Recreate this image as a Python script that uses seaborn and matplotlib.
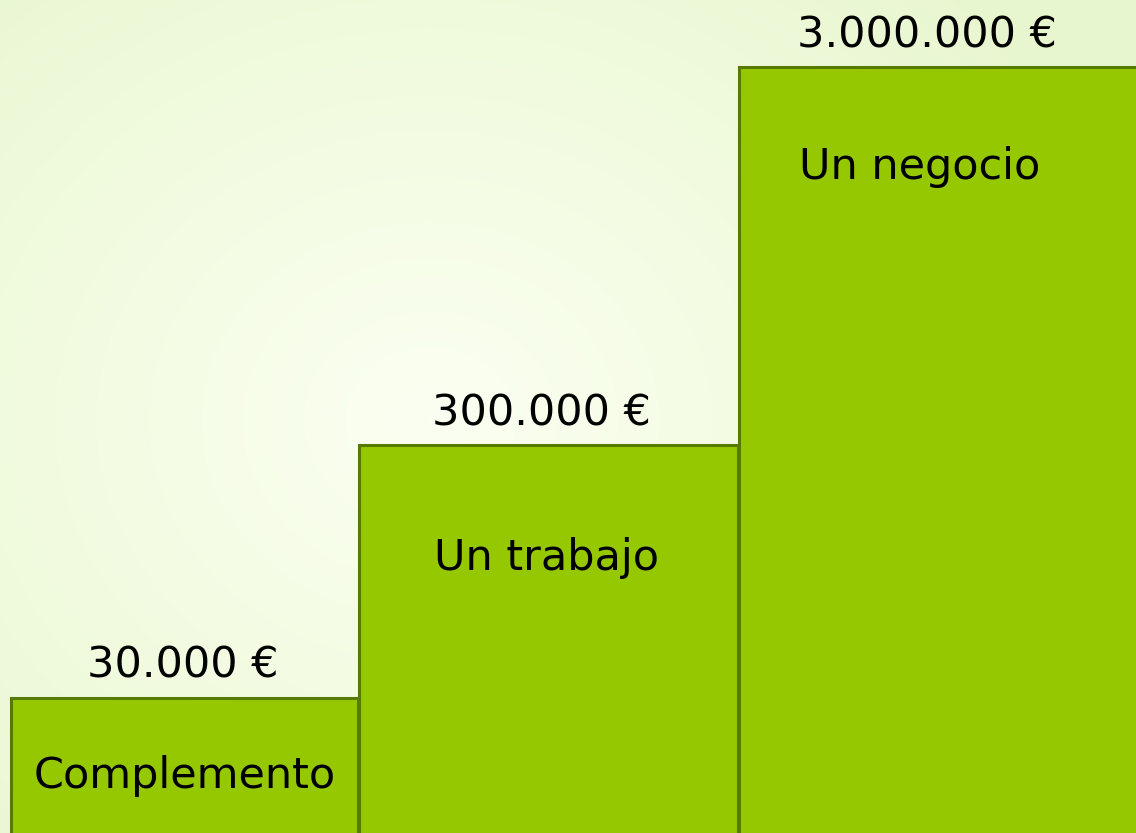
import numpy as np
import matplotlib
matplotlib.use("Agg")
import matplotlib.pyplot as plt
import seaborn as sns
from matplotlib.colors import LinearSegmentedColormap

# Data
categories = ["Complemento", "Un trabajo", "Un negocio"]
value_labels = ["30.000 €", "300.000 €", "3.000.000 €"]
step_heights = [135, 388, 766]  # staircase heights as drawn (pixels of the 833 px canvas)

sns.set_theme(style="white")
plt.rcParams['font.family'] = ['DejaVu Sans']

W, H = 1136, 833
fig = plt.figure(figsize=(W / 100, H / 100), dpi=100)
ax = fig.add_axes([0, 0, 1, 1])

# background gradient
yy, xx = np.mgrid[0:H, 0:W]
r = np.sqrt(((xx - 430) / 750.0) ** 2 + ((yy - 420) / 650.0) ** 2)
r = np.clip(r, 0, 1)
bg_cmap = LinearSegmentedColormap.from_list("bg", ["#fbfff2", "#f2fbe0", "#e8f6cf"])
ax.imshow(r, cmap=bg_cmap, extent=[0, W, 0, H], origin="upper", aspect="auto", zorder=0)

sns.barplot(x=categories, y=step_heights, ax=ax, width=1.0,
            color="#96c800", saturation=1, edgecolor="#577a00", linewidth=2.2, zorder=2)

bar_left = [11, 359, 739]
bar_width = [347, 379, 420]
extend_below = 20
for p, l, w in zip(ax.patches, bar_left, bar_width):
    p.set_x(l)
    p.set_width(w)
    p.set_y(-extend_below)
    p.set_height(p.get_height() + extend_below)

name_cx = [185, 546, 920]
value_cx = [183, 541, 927]
name_gap = [90, 125, 112]
fs = 31
for h, name, val, ncx, vcx, g in zip(step_heights, categories, value_labels, name_cx, value_cx, name_gap):
    ax.text(vcx, h + 20, val, ha="center", va="baseline", fontsize=fs, color="black", zorder=3)
    ax.text(ncx, h - g, name, ha="center", va="baseline", fontsize=fs, color="black", zorder=3)

ax.set_xlim(0, W)
ax.set_ylim(0, H)
ax.axis("off")
fig.savefig("out.png", dpi=100)
